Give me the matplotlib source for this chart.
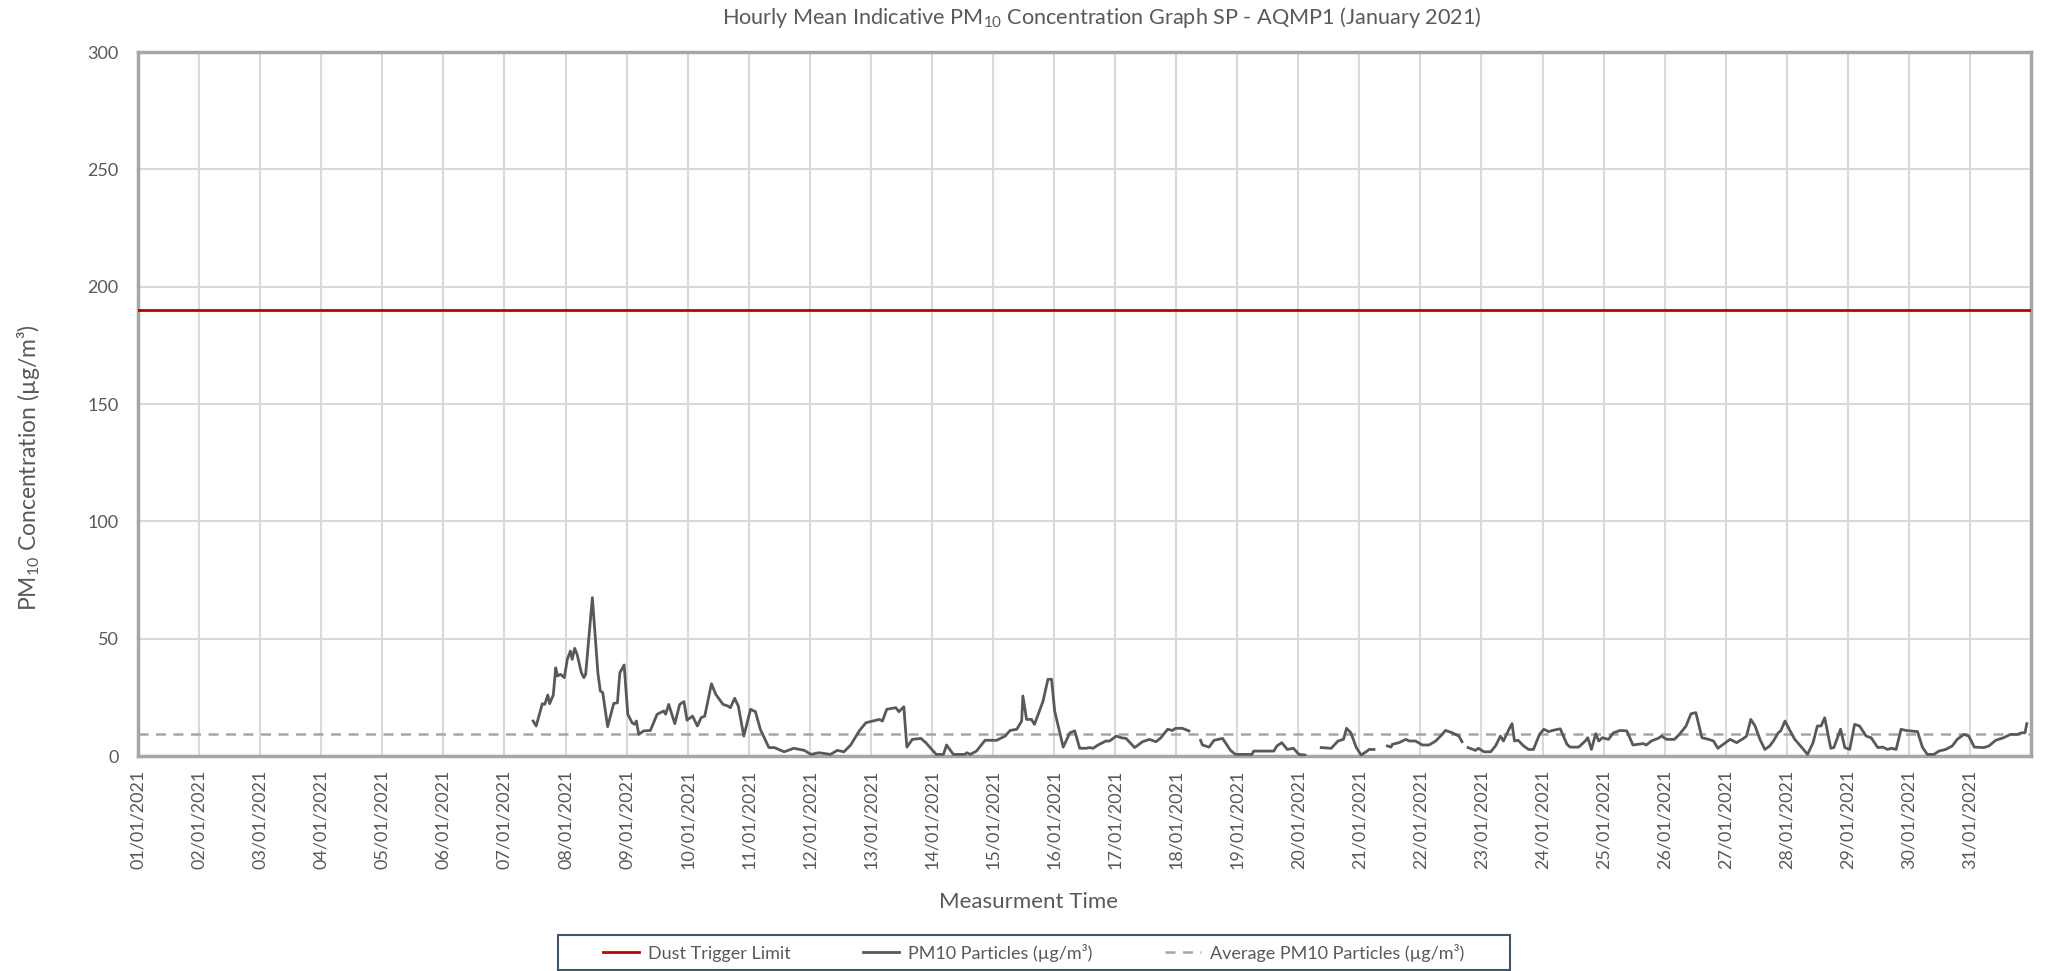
import numpy as np
import pandas as pd
import matplotlib
matplotlib.use("Agg")
import matplotlib.pyplot as plt
import matplotlib.dates as mdates
from matplotlib.patches import Rectangle

# data (time in days after 01/01/2021 00:00, NaN = no data)
pm_day = [
    6.47, 6.52, 6.62, 6.66, 6.71, 6.74, 6.80, 6.84, 6.87, 6.92, 6.98, 7.03, 7.08, 7.11, 7.15, 7.19,
    7.26, 7.30, 7.33, 7.44, 7.53, 7.57, 7.61, 7.69, 7.79, 7.85, 7.89, 7.96, 8.02, 8.09, 8.13, 8.16,
    8.20, 8.28, 8.39, 8.50, 8.61, 8.64, 8.69, 8.79, 8.87, 8.94, 8.99, 9.08, 9.16, 9.22, 9.28, 9.39,
    9.46, 9.58, 9.66, 9.70, 9.77, 9.83, 9.92, 10.03, 10.11, 10.19, 10.33, 10.42, 10.58, 10.74, 10.91,
    11.02, 11.15, 11.34, 11.45, 11.56, 11.67, 11.81, 11.92, 12.14, 12.19, 12.26, 12.41, 12.46, 12.54,
    12.59, 12.68, 12.82, 12.90, 13.07, 13.14, 13.19, 13.24, 13.35, 13.54, 13.57, 13.63, 13.73, 13.87,
    14.06, 14.20, 14.28, 14.39, 14.47, 14.49, 14.55, 14.63, 14.68, 14.82, 14.90, 14.96, 15.01, 15.15,
    15.26, 15.34, 15.42, 15.53, 15.58, 15.64, 15.72, 15.85, 15.91, 16.02, 16.10, 16.18, 16.32, 16.45,
    16.56, 16.67, 16.75, 16.86, 16.94, 16.99, 17.10, 17.21, 17.30,
    17.40, 17.43, 17.54, 17.62, 17.76, 17.89, 17.97, 18.24, 18.27, 18.60, 18.65, 18.73, 18.82, 18.92,
    19.01, 19.11, 19.25,
    19.375, 19.54, 19.65, 19.74, 19.79, 19.86, 19.95, 20.03, 20.11, 20.16, 20.24, 20.35,
    20.46, 20.52, 20.54, 20.65, 20.76, 20.82, 20.92, 21.03, 21.14, 21.25, 21.33, 21.41, 21.52, 21.63,
    21.68, 21.73,
    21.78, 21.90, 21.95, 22.04, 22.15, 22.23, 22.31, 22.36, 22.45, 22.50, 22.54, 22.60, 22.69, 22.77,
    22.85, 22.95, 23.02, 23.10, 23.18, 23.29, 23.40, 23.45, 23.59, 23.70, 23.74, 23.80, 23.87, 23.92,
    23.98, 24.08, 24.16, 24.27, 24.38, 24.48, 24.65, 24.70, 24.78, 24.89, 24.95, 25.03, 25.16, 25.24,
    25.35, 25.43, 25.51, 25.61, 25.72, 25.80, 25.87, 25.96, 26.07, 26.18, 26.29, 26.34, 26.41, 26.48,
    26.56, 26.64, 26.72, 26.78, 26.86, 26.90, 26.97, 27.05, 27.13, 27.24, 27.34, 27.43, 27.50, 27.56,
    27.62, 27.67, 27.72, 27.77, 27.88, 27.95, 28.03, 28.11, 28.19, 28.30, 28.38, 28.49, 28.57, 28.65,
    28.71, 28.79, 28.87, 28.95, 29.14, 29.22, 29.30, 29.41, 29.49, 29.60, 29.71, 29.79, 29.90, 29.98,
    30.07, 30.23, 30.31, 30.42, 30.55, 30.66, 30.77, 30.85, 30.90, 30.93,
]
pm_value = [
    14.9, 12.8, 22.3, 22.0, 26.0, 22.3, 26.0, 37.6, 34.1, 34.8, 33.4, 41.2, 44.7, 41.2, 45.9, 43.3,
    35.5, 33.4, 34.8, 67.5, 35.5, 27.7, 27.0, 12.5, 22.4, 22.7, 35.5, 38.8, 17.8, 14.2, 13.5, 14.9,
    9.2, 10.7, 10.9, 17.8, 19.2, 17.8, 22.0, 13.8, 22.0, 23.2, 15.3, 17.0, 12.8, 16.3, 17.0, 30.8,
    26.3, 22.0, 21.3, 20.6, 24.6, 21.3, 8.5, 19.9, 18.9, 11.4, 3.6, 3.6, 1.8, 3.3, 2.4,
    0.7, 1.4, 0.7, 2.4, 1.8, 4.7, 10.7, 14.2, 15.6, 14.9, 19.9, 20.6, 18.9, 21.0,
    3.8, 7.1, 7.5, 5.7, 0.7, 0.7, 0.7, 4.7, 0.7, 0.7, 1.4, 0.7, 2.1, 6.7,
    6.7, 8.5, 10.9, 11.4, 14.9, 25.6, 15.6, 15.6, 13.5, 23.4, 32.7, 32.7, 19.2, 3.8,
    9.9, 10.7, 3.3, 3.3, 3.6, 3.3, 4.7, 6.4, 6.4, 8.5, 7.8, 7.5, 3.6, 6.1,
    7.1, 6.1, 7.8, 11.4, 10.9, 11.8, 11.8, 10.7, np.nan,
    6.7, 4.7, 3.8, 6.7, 7.5, 2.4, 0.7, 0.7, 2.1, 2.1, 4.3, 5.7, 2.8, 3.3,
    0.7, 0.4, np.nan,
    3.6, 3.3, 6.4, 7.1, 11.8, 9.9, 3.6, 0.4, 1.8, 2.8, 2.8, np.nan,
    4.3, 3.8, 5.0, 5.7, 7.1, 6.4, 6.4, 4.7, 4.7, 6.4, 8.5, 10.9, 9.9, 8.5,
    6.1, np.nan,
    3.6, 2.4, 3.3, 1.8, 1.8, 4.3, 8.5, 6.4, 11.4, 13.8, 6.4, 6.7, 4.3, 2.8,
    2.8, 9.2, 11.4, 10.4, 11.0, 11.6, 5.0, 3.8, 3.8, 6.4, 7.8, 2.8, 9.5, 6.4,
    7.8, 7.1, 9.9, 10.9, 10.7, 4.7, 5.3, 4.7, 6.4, 7.5, 8.5, 7.1, 7.1, 9.2,
    12.8, 18.0, 18.5, 7.8, 7.1, 6.4, 3.3, 5.0, 7.1, 5.7, 7.5, 8.5, 15.6, 12.8,
    7.1, 2.8, 4.3, 6.4, 9.9, 10.7, 14.9, 10.9, 7.1, 3.8, 0.7, 5.7, 12.8, 12.8,
    16.3, 9.9, 3.3, 3.6, 11.4, 3.6, 2.8, 13.5, 12.8, 8.5, 7.8, 3.6, 3.8, 2.8,
    3.3, 2.8, 11.4, 10.9, 10.4, 3.8, 0.7, 0.7, 2.1, 2.8, 4.3, 7.1, 9.2, 8.5,
    3.8, 3.6, 4.3, 6.7, 7.8, 9.2, 9.2, 9.9, 9.9, 13.8,
]
trigger_limit = 190
average_pm = 9.3

month_start = pd.Timestamp("2021-01-01")
pm_time = month_start + pd.to_timedelta(pm_day, unit="D")
day_ticks = pd.date_range("2021-01-01", "2021-01-31", freq="D")

plt.rcParams['font.family'] = ['Lato', 'DejaVu Sans']
plt.rcParams['mathtext.fontset'] = 'custom'
plt.rcParams['mathtext.rm'] = 'Lato'
plt.rcParams['mathtext.it'] = 'Lato'
plt.rcParams['mathtext.default'] = 'rm'

c_text = '#595959'
c_grid = '#D9D9D9'
c_frame = '#A6A6A6'

fig = plt.figure(figsize=(20.45, 9.71), dpi=100)
ax = fig.add_axes([0.0675, 0.2214, 0.9257, 0.725])

ax.axhline(trigger_limit, color='#C00000', lw=2.0, label='Dust Trigger Limit', zorder=3)
ax.plot(pm_time, pm_value, color='#595959', lw=2.0, label='PM10 Particles (µg/m³)', zorder=4)
ax.axhline(average_pm, color='#A6A6A6', lw=1.8, ls=(0, (4, 3)), label='Average PM10 Particles (µg/m³)', zorder=2)

ax.set_xlim(month_start, pd.Timestamp("2021-02-01"))
ax.set_ylim(0, 300)
ax.set_yticks(np.arange(0, 301, 50))
ax.set_xticks(day_ticks)
ax.xaxis.set_major_formatter(mdates.DateFormatter('%d/%m/%Y'))
ax.grid(True, color=c_grid, lw=1.5, zorder=0)
ax.set_axisbelow(True)

for s in ax.spines.values():
    s.set_color(c_frame)
    s.set_linewidth(2.5)

ax.tick_params(axis='both', length=0, colors=c_text, labelsize=13)
ax.tick_params(axis='x', pad=10, rotation=90)
ax.tick_params(axis='y', pad=14)

fig.text(0.539, 0.982, 'Hourly Mean Indicative PM$_{10}$ Concentration Graph SP - AQMP1 (January 2021)',
         ha='center', va='center', fontsize=15.6, color=c_text)
fig.text(0.0137, 0.518, 'PM$_{10}$ Concentration (µg/m³)', rotation=90,
         ha='center', va='center', fontsize=16.5, color=c_text)
fig.text(0.503, 0.071, 'Measurment Time', ha='center', va='center', fontsize=16, color=c_text)

# legend with its own box
leg = fig.legend(loc='center', bbox_to_anchor=(0.5054, 0.019), ncol=3, frameon=False,
                 fontsize=13, handlelength=2.0, handletextpad=0.5, columnspacing=4.0)
for t in leg.get_texts():
    t.set_color(c_text)
fig.patches.append(Rectangle((0.2729, 0.0015), 0.4655, 0.0355, transform=fig.transFigure,
                             fill=False, edgecolor='#44546A', lw=1.5))

fig.savefig('out.png', dpi=100)
